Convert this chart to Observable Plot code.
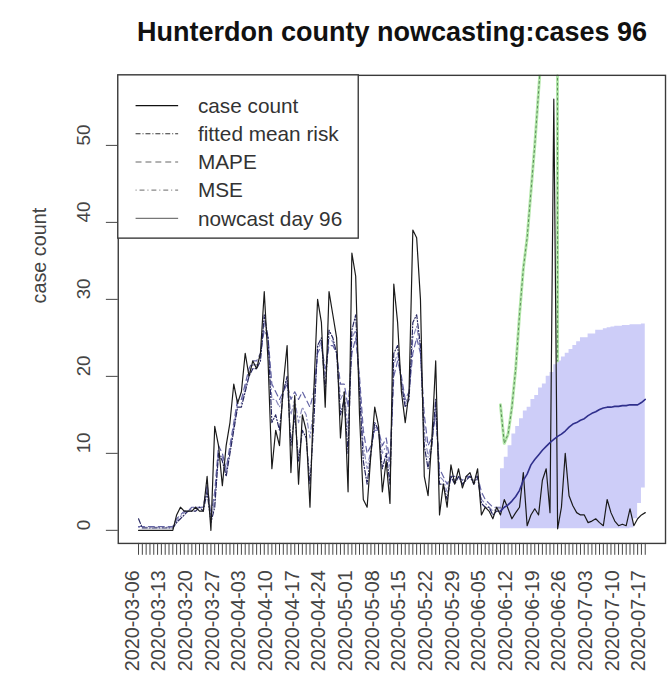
<!DOCTYPE html>
<html>
<head>
<meta charset="utf-8">
<script src="https://cdn.jsdelivr.net/npm/d3@7"></script>
<script src="https://cdn.jsdelivr.net/npm/@observablehq/plot@0.6"></script>
<style>
  html, body { margin: 0; padding: 0; background: #fff; overflow: hidden; width: 667px; height: 693px; }
  #title {
    height: 60px; width: 672px; box-sizing: border-box; padding-left: 112px;
    text-align: center; font: bold 27px "Liberation Sans", Arial, sans-serif;
    line-height: 64px; color: #111; white-space: nowrap;
  }
  #chart svg { display: block; }
</style>
</head>
<body>
<div id="title">Hunterdon county nowcasting:cases 96</div>
<div id="chart"></div>
<script>
// Daily series start on this date; index i is day i.
const startDay = "2020-03-06";

// Reported daily case counts, 2020-03-06 .. 2020-07-17
const caseCount = [
  0, 0, 0, 0, 0, 0, 0, 0, 0, 0,
  2, 3, 2.5, 2.5, 2.5, 3, 2.5, 2.5, 7, 0,
  13.5, 11, 5.8, 11, 14, 19, 16.5, 18, 23, 20,
  22, 21, 23, 31, 22, 8, 13, 11, 19, 24,
  7.5, 17.5, 6, 15, 13, 3, 18, 30, 27, 16,
  31, 28, 25, 12, 18, 5, 36, 33, 15, 4,
  3, 10, 16, 13.5, 5, 9, 3.5, 32, 27, 18,
  14, 18, 39, 38, 30, 7, 4.5, 12, 22, 2,
  6, 3, 8.5, 6, 8, 5.5, 7, 7.5, 6, 8,
  2, 3, 2.5, 1.5, 3, 2, 4, 2.8, 1.5, 2.3,
  3, 7.5, 0.6, 2, 2.8, 2, 6.5, 8, 2.3, 56,
  0.2, 3, 10, 4.5, 3.2, 2.3, 2, 2, 1, 1.2,
  1.5, 1, 0.6, 4, 2.3, 1.2, 0.6, 0.8, 0.6, 2.8,
  0.6, 1.5, 2, 2.3
];

// Model fits over the training window (days 0 .. 95)
const fittedMeanRisk = [
  1.5, 0.3, 0.3, 0.3, 0.3, 0.3, 0.3, 0.3, 0.3, 0.3,
  1, 1.5, 2, 2.5, 2.5, 2.5, 3, 2.5, 5, 1,
  3, 10, 9, 7, 10, 13, 16, 16, 18, 20,
  21, 21, 22, 28, 25, 14, 15, 13, 18, 20,
  11, 15, 9, 13, 12, 6, 14, 24, 25, 18,
  26, 25, 23, 15, 17, 10, 26, 28, 18, 9,
  6, 10, 14, 13, 8, 10, 6, 23, 24, 19,
  16, 17, 27, 28, 24, 11, 8, 11, 17, 6,
  6, 4, 7, 6, 7, 6, 6.5, 7, 6, 7,
  3.5, 3, 3, 2, 2.5, 2.5
];
const mape = [
  0.5, 0.5, 0.5, 0.5, 0.5, 0.5, 0.5, 0.5, 0.5, 0.5,
  1.5, 2, 2.5, 2.5, 3, 3, 3, 3, 6, 2,
  5, 11, 10, 8, 11, 14, 17, 17, 19, 21,
  22, 22, 23, 26, 25, 19, 18, 17, 18, 19,
  17, 18, 17, 18, 17, 16, 18, 23, 24, 21,
  24, 24, 23, 19, 19, 16, 23, 25, 20, 13,
  10, 11, 13, 13, 11, 12, 9, 20, 22, 20,
  17, 18, 23, 25, 23, 15, 11, 12, 15, 8,
  7, 6, 7, 7, 7, 6.5, 7, 7, 7, 7,
  5, 4, 3.5, 3, 3, 3
];
const mse = [
  0.4, 0.4, 0.4, 0.4, 0.4, 0.4, 0.4, 0.4, 0.4, 0.4,
  1.2, 1.8, 2.3, 2.5, 2.8, 3, 3, 3, 5.5, 1.5,
  4, 10, 9.5, 7.5, 10.5, 13.5, 16.5, 16.5, 18.5, 20.5,
  21.5, 21.5, 22.5, 27, 25, 17, 17, 16, 18, 19.5,
  15, 17, 14, 16, 15, 12, 16, 23.5, 24.5, 20,
  25, 24.5, 23, 17, 18, 13, 25, 26, 19, 11,
  8, 10.5, 13.5, 13, 10, 11, 8, 21.5, 23, 19.5,
  16.5, 17.5, 25, 26.5, 23.5, 13, 9.5, 11.5, 16, 7,
  6.5, 5, 7, 6.5, 7, 6, 6.8, 7, 6.5, 7,
  4, 3.5, 3, 2.5, 2.8, 2.8
];

// Nowcast from day 95 onward: central path and interval
const nowcastStart = 95;
const nowcastMid = [
  2.5, 3, 3.3, 3.8, 4.4, 5.2, 6.5, 7.3, 8.5, 9.2,
  9.8, 10.4, 10.9, 11.4, 11.8, 12.2, 12.5, 12.9, 13.4, 13.8,
  14, 14.3, 14.5, 14.9, 15.2, 15.4, 15.7, 15.9, 16, 16,
  16.1, 16.1, 16.2, 16.2, 16.3, 16.3, 16.3, 16.6, 17
];
const nowcastHi = [
  8, 9.5, 11, 12.5, 13.5, 14.5, 15.5, 16, 17, 17.5,
  18.5, 19, 20, 20.5, 21.5, 22, 22.5, 23, 23.5, 24,
  24.5, 25, 25, 25.5, 25.5, 26, 26, 26.2, 26.3, 26.4,
  26.5, 26.5, 26.6, 26.6, 26.7, 26.7, 26.7, 26.8, 26.8
];
const nowcastLo = [
  0.2, 0.2, 0.2, 0.2, 0.2, 0.2, 0.2, 0.2, 0.2, 0.2,
  0.2, 0.2, 0.2, 0.2, 0.2, 0.2, 0.2, 0.2, 0.2, 0.2,
  0.2, 0.2, 0.2, 0.2, 0.2, 0.2, 0.2, 0.2, 0.2, 0.2,
  0.2, 0.2, 0.2, 0.2, 0.3, 1.5, 3.5, 5.5, 7
];
// Unbounded upper path (diverges above the axis range)
const upperPath = [16.3, 11.3, 12.5, 16, 21, 28, 34, 38, 44, 50, 57, 64, 120, 300, 900, 22];

// Weekly axis labels
const weekLabels = [
  "2020-03-06", "2020-03-13", "2020-03-20", "2020-03-27", "2020-04-03",
  "2020-04-10", "2020-04-17", "2020-04-24", "2020-05-01", "2020-05-08",
  "2020-05-15", "2020-05-22", "2020-05-29", "2020-06-05", "2020-06-12",
  "2020-06-19", "2020-06-26", "2020-07-03", "2020-07-10", "2020-07-17"
];
const yTicks = [0, 10, 20, 30, 40, 50];

const legendItems = [
  {label: "case count",       stroke: "#111", dash: null,      width: 1.3},
  {label: "fitted mean risk", stroke: "#333", dash: "5,2,1,2", width: 1.1},
  {label: "MAPE",             stroke: "#666", dash: "6,4",     width: 1.1},
  {label: "MSE",              stroke: "#888", dash: "1,3,5,3", width: 1.1},
  {label: "nowcast day 96",   stroke: "#777", dash: null,      width: 1.3}
];

const t0 = new Date(startDay + "T00:00:00Z");
const dayMs = 864e5;
const day = i => new Date(+t0 + i * dayMs);

const rows = (values, offset = 0) => values.map((v, i) => ({date: day(i + offset), value: v}));
const caseRows = rows(caseCount);
const fittedRows = rows(fittedMeanRisk);
const mapeRows = rows(mape);
const mseRows = rows(mse);
const upperRows = rows(upperPath, nowcastStart);
const nowRows = nowcastMid.map((v, i) => ({
  date: day(nowcastStart + i), mid: v, lo: nowcastLo[i], hi: nowcastHi[i]
}));
const allDays = caseCount.map((_, i) => day(i));
const weekRows = weekLabels.map(s => ({date: new Date(s + "T00:00:00Z"), label: s}));

const nDays = caseCount.length - 1;
const pad = nDays * 0.04;
const xDomain = [day(-pad), day(nDays + pad)];

const font = "'Liberation Sans', Arial, Helvetica, sans-serif";

const chart = Plot.plot({
  width: 674,
  height: 633,
  marginTop: 15,
  marginBottom: 145,
  marginLeft: 119,
  marginRight: 2,
  style: {fontFamily: font, background: "#fff", overflow: "visible"},
  x: {type: "utc", domain: xDomain, axis: null},
  y: {domain: [-1.7, 59.1], axis: null},
  marks: [
    // nowcast interval
    Plot.areaY(nowRows, {x: "date", y1: "lo", y2: "hi", fill: "#cdcdf8", curve: "step-after"}),
    // diverging upper path
    Plot.line(upperRows, {x: "date", y: "value", stroke: "#b4e8ab", strokeWidth: 3, clip: true}),
    Plot.line(upperRows, {x: "date", y: "value", stroke: "#4f7f4f", strokeWidth: 0.9, strokeDasharray: "2,3", clip: true}),
    // model fits
    Plot.line(mseRows, {x: "date", y: "value", stroke: "#8c8cbc", strokeWidth: 1.2, strokeDasharray: "1,3,5,3"}),
    Plot.line(mapeRows, {x: "date", y: "value", stroke: "#6464a4", strokeWidth: 1.2, strokeDasharray: "6,4"}),
    Plot.line(fittedRows, {x: "date", y: "value", stroke: "#262660", strokeWidth: 1.2, strokeDasharray: "5,2,1,2"}),
    // observed cases
    Plot.line(caseRows, {x: "date", y: "value", stroke: "#1a1a1a", strokeWidth: 1.2}),
    // nowcast path
    Plot.line(nowRows, {x: "date", y: "mid", stroke: "#2f2f8c", strokeWidth: 1.6}),
    Plot.frame({stroke: "#3a3a3a", strokeWidth: 1.4}),
    // axes
    Plot.axisX(allDays, {tickSize: 12, tickFormat: () => "", stroke: "#444", strokeWidth: 1}),
    Plot.text(weekRows, {
      x: "date", text: "label", frameAnchor: "bottom", rotate: -90,
      textAnchor: "end", dy: 27, fontSize: 20, fill: "#444"
    }),
    Plot.axisY(yTicks, {tickSize: 12, tickFormat: () => "", stroke: "#444", strokeWidth: 1}),
    Plot.text(yTicks, {
      y: d => d, text: d => String(d), frameAnchor: "left",
      dx: -35, rotate: -90, fontSize: 19, fill: "#444"
    }),
    Plot.text(["case count"], {
      text: d => d, frameAnchor: "left", dx: -79, dy: -6,
      rotate: -90, fontSize: 20, fill: "#444"
    })
  ]
});

// Legend box in the top-left corner of the panel
const svg = d3.select(chart);
const lg = svg.append("g")
  .attr("font-family", font).attr("font-size", 21).attr("text-anchor", "start");
lg.append("rect")
  .attr("x", 119).attr("y", 15).attr("width", 243).attr("height", 165)
  .attr("fill", "#fff").attr("stroke", "#3a3a3a").attr("stroke-width", 1.4);
legendItems.forEach((it, i) => {
  const cy = 46 + i * 28.5;
  lg.append("line")
    .attr("x1", 137).attr("x2", 180).attr("y1", cy).attr("y2", cy)
    .attr("stroke", it.stroke).attr("stroke-width", it.width)
    .attr("stroke-dasharray", it.dash);
  lg.append("text")
    .attr("x", 200).attr("y", cy).attr("dy", "0.35em")
    .attr("text-anchor", "start")
    .attr("fill", "#333").text(it.label);
});

document.getElementById("chart").appendChild(chart);
</script>
</body>
</html>
